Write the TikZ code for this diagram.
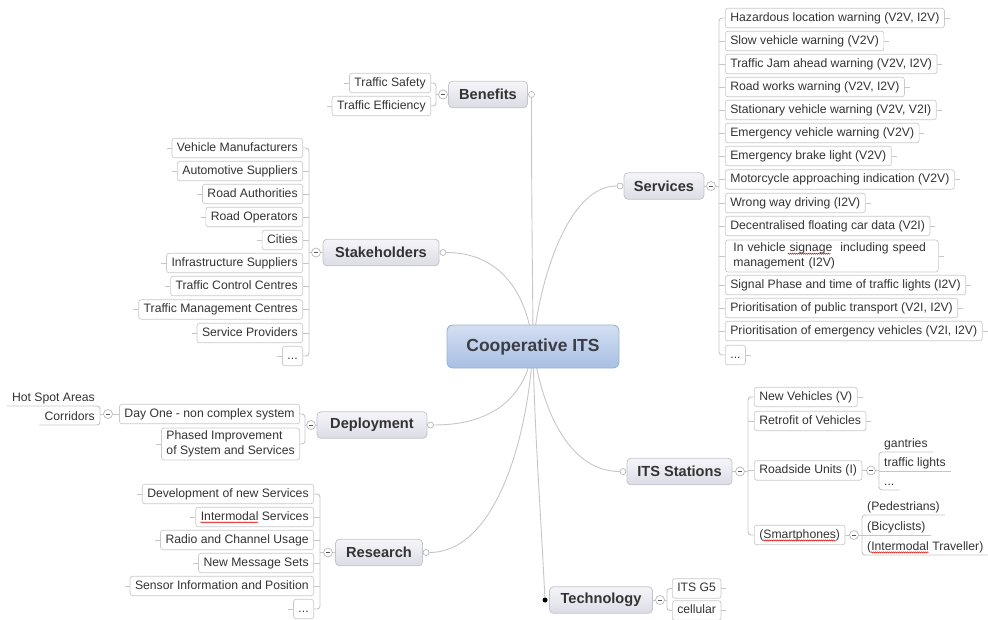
\documentclass[tikz,border=0pt]{standalone}
\usepackage{fontspec}
\setmainfont{Liberation Sans}
\usetikzlibrary{backgrounds,decorations.pathmorphing}

\definecolor{txt}{HTML}{333333}
\definecolor{leafline}{HTML}{CACACA}
\definecolor{connc}{HTML}{C6C6C6}
\definecolor{circc}{HTML}{B8B8B8}
\definecolor{minuscol}{HTML}{555555}
\definecolor{topicline}{HTML}{C4C4CE}
\definecolor{topictop}{HTML}{F5F5F9}
\definecolor{topicbot}{HTML}{DCDCE6}
\definecolor{cline}{HTML}{9DB2D2}
\definecolor{ctop}{HTML}{D4DFF1}
\definecolor{cbot}{HTML}{A7BFE4}
\definecolor{ctxt}{HTML}{3C3C44}
\definecolor{spellred}{HTML}{E02020}

\newcommand\leaffont{\fontsize{12.2}{14.5}\selectfont}
\newcommand\topicfont{\fontsize{14.6}{17}\selectfont\bfseries}
\newcommand\centralfont{\fontsize{17.5}{21}\selectfont\bfseries}
% widths used to place the spell-check marks
\newlength\wIntermodal
\newlength\wSmartphones
\newlength\wParen
\newlength\wInVehicle
\newlength\wSignage

\begin{document}
\settowidth\wIntermodal{\leaffont Intermodal}%
\settowidth\wSmartphones{\leaffont Smartphones}%
\settowidth\wParen{\leaffont (}%
\settowidth\wInVehicle{\leaffont In vehicle\ }%
\settowidth\wSignage{\leaffont signage}%
\begin{tikzpicture}[x=1pt,y=-1pt,
  conn/.style={draw=connc,line width=0.9pt},
  bconn/.style={conn,rounded corners=3pt},
  leaf/.style={draw=leafline,fill=white,rounded corners=2.5pt,line width=0.7pt,
    font=\leaffont,text=txt,inner xsep=5pt,inner ysep=3.5pt,
    text height=9pt,text depth=2.7pt,minimum height=19.5pt},
  leafwrap/.style={leaf,align=left,text height=,text depth=,inner ysep=3pt},
  uleaf/.style={font=\leaffont,text=txt,inner xsep=5pt,inner ysep=2pt,
    text height=9pt,text depth=2.7pt},
  topic/.style={draw=topicline,top color=topictop,bottom color=topicbot,
    rounded corners=4pt,line width=0.8pt,font=\topicfont,text=txt,
    minimum height=26.5pt,inner sep=0pt},
  central/.style={draw=cline,top color=ctop,bottom color=cbot,rounded corners=6pt,
    line width=0.9pt,font=\centralfont,text=ctxt,minimum width=172pt,
    minimum height=43pt,inner sep=0pt},
  collapse/.style={circle,draw=circc,fill=white,line width=0.7pt,minimum size=9pt,
    inner sep=0pt,path picture={\draw[minuscol,line width=0.9pt]
      ([xshift=-2.2pt]path picture bounding box.center) --
      ([xshift=2.2pt]path picture bounding box.center);}},
  endc/.style={circle,draw=circc,fill=white,line width=0.7pt,minimum size=6pt,inner sep=0pt},
  selc/.style={circle,fill=black,minimum size=5pt,inner sep=0pt},
  squig/.style={draw=spellred,line width=0.55pt,decorate,
    decoration={zigzag,segment length=2pt,amplitude=0.6pt}}
]
\useasboundingbox (0,0) rectangle (988,619);

% ---------- central topic ----------
\node[central] (cits) at (533,346.5) {Cooperative ITS};

% ---------- Benefits ----------
\node[topic,minimum width=79pt] (ben) at (488,94.5) {Benefits};
\node[endc] (benE) at (531.5,94.5) {};
\node[collapse] (benM) at (443,94.5) {};
\coordinate (benB) at (436,94.5);
\node[leaf,anchor=east] (b1) at (431,83) {Traffic Safety};
\node[leaf,anchor=east] (b2) at (431,106) {Traffic Efficiency};
\draw[bconn] (b1.east) -| (benB) |- (b2.east);
\draw[conn] (ben.west) -- (benM);
\draw[conn] (benM) -- (benB);
\foreach \n in {b1,b2} \draw[conn] (\n.west) -- +(-5,0);

% ---------- Stakeholders ----------
\node[topic,minimum width=116pt] (stk) at (381,252.5) {Stakeholders};
\node[endc] (stkE) at (443,252.5) {};
\node[collapse] (stkM) at (316,252.5) {};
\coordinate (stkB) at (309,252.5);
\node[leaf,anchor=east] (k1) at (303,148) {Vehicle Manufacturers};
\node[leaf,anchor=east] (k2) at (303,171) {Automotive Suppliers};
\node[leaf,anchor=east] (k3) at (303,194) {Road Authorities};
\node[leaf,anchor=east] (k4) at (303,217) {Road Operators};
\node[leaf,anchor=east] (k5) at (303,240) {Cities};
\node[leaf,anchor=east] (k6) at (303,263) {Infrastructure Suppliers};
\node[leaf,anchor=east] (k7) at (303,286) {Traffic Control Centres};
\node[leaf,anchor=east] (k8) at (303,309.5) {Traffic Management Centres};
\node[leaf,anchor=east] (k9) at (303,333) {Service Providers};
\node[leaf,anchor=east] (k10) at (303,356) {...};
\draw[bconn] (k1.east) -| (stkB) |- (k10.east);
\foreach \n in {k2,k3,k4,k5,k6,k7,k8,k9} \draw[conn] (\n.east) -- (\n.east -| stkB);
\draw[conn] (stk.west) -- (stkM);
\draw[conn] (stkM) -- (stkB);
\foreach \n in {k1,k2,k3,k4,k5,k6,k7,k8,k9,k10} \draw[conn] (\n.west) -- +(-5,0);

% ---------- Deployment ----------
\node[topic,minimum width=110pt] (dep) at (372,425) {Deployment};
\node[endc] (depE) at (430.5,425) {};
\node[collapse] (depM) at (311,425) {};
\coordinate (depB) at (305,425);
\node[leaf,anchor=east] (d1) at (300,414) {Day One - non complex system};
\node[leafwrap,anchor=east] (d2) at (300,444) {Phased Improvement\\of System and Services};
\draw[bconn] (d1.east) -| (depB) |- (d2.east);
\draw[conn] (dep.west) -- (depM);
\draw[conn] (depM) -- (depB);
\draw[conn] (d2.west) -- +(-5,0);
% Day One sub-branch
\node[collapse] (d1M) at (108,414) {};
\coordinate (d1B) at (100,414);
\node[uleaf,anchor=south east] (h1) at (100,406) {Hot Spot Areas};
\node[uleaf,anchor=south east] (h2) at (100,425) {Corridors};
\draw[bconn] (h1.south west) -- (h1.south east) -- (h2.south east) -- (h2.south west);
\draw[conn] (d1.west) -- (d1M);
\draw[conn] (d1M) -- (d1B);

% ---------- Research ----------
\node[topic,minimum width=87pt] (res) at (379,552.5) {Research};
\node[endc] (resE) at (426,552.5) {};
\node[collapse] (resM) at (328,552.5) {};
\coordinate (resB) at (320,552.5);
\node[leaf,anchor=east] (r1) at (314,494) {Development of new Services};
\node[leaf,anchor=east] (r2) at (314,517) {Intermodal Services};
\node[leaf,anchor=east] (r3) at (314,540) {Radio and Channel Usage};
\node[leaf,anchor=east] (r4) at (314,563) {New Message Sets};
\node[leaf,anchor=east] (r5) at (314,586) {Sensor Information and Position};
\node[leaf,anchor=east] (r6) at (314,609) {...};
\draw[bconn] (r1.east) -| (resB) |- (r6.east);
\foreach \n in {r2,r3,r4,r5} \draw[conn] (\n.east) -- (\n.east -| resB);
\draw[conn] (res.west) -- (resM);
\draw[conn] (resM) -- (resB);
\foreach \n in {r1,r2,r3,r4,r5,r6} \draw[conn] (\n.west) -- +(-5,0);

% ---------- Services ----------
\node[topic,minimum width=80pt] (svc) at (664,186) {Services};
\node[endc] (svcE) at (620,186) {};
\node[collapse] (svcM) at (711,186) {};
\coordinate (svcB) at (719,186);
\node[leaf,anchor=west] (s1) at (725,18) {Hazardous location warning (V2V, I2V)};
\node[leaf,anchor=west] (s2) at (725,41) {Slow vehicle warning (V2V)};
\node[leaf,anchor=west] (s3) at (725,64) {Traffic Jam ahead warning (V2V, I2V)};
\node[leaf,anchor=west] (s4) at (725,87) {Road works warning (V2V, I2V)};
\node[leaf,anchor=west] (s5) at (725,110) {Stationary vehicle warning (V2V, V2I)};
\node[leaf,anchor=west] (s6) at (725,133) {Emergency vehicle warning (V2V)};
\node[leaf,anchor=west] (s7) at (725,156) {Emergency brake light (V2V)};
\node[leaf,anchor=west] (s8) at (725,179.5) {Motorcycle approaching indication (V2V)};
\node[leaf,anchor=west] (s9) at (725,203) {Wrong way driving (I2V)};
\node[leaf,anchor=west] (s10) at (725,226) {Decentralised floating car data (V2I)};
\node[leafwrap,anchor=west,text width=197pt,inner xsep=8pt] (s11) at (725,256)
  {In vehicle signage\space\space including speed\\management (I2V)};
\node[leaf,anchor=west] (s12) at (725,285) {Signal Phase and time of traffic lights (I2V)};
\node[leaf,anchor=west] (s13) at (725,308) {Prioritisation of public transport (V2I, I2V)};
\node[leaf,anchor=west] (s14) at (725,331) {Prioritisation of emergency vehicles (V2I, I2V)};
\node[leaf,anchor=west] (s15) at (725,355) {...};
\draw[bconn] (s1.west) -| (svcB) |- (s15.west);
\foreach \n in {s2,s3,s4,s5,s6,s7,s8,s9,s10,s11,s12,s13,s14}
  \draw[conn] (\n.west) -- (\n.west -| svcB);
\draw[conn] (svc.east) -- (svcM);
\draw[conn] (svcM) -- (svcB);
\foreach \n in {s1,s2,s3,s4,s5,s6,s7,s8,s9,s10,s11,s12,s13,s14,s15}
  \draw[conn] (\n.east) -- +(5,0);

% ---------- ITS Stations ----------
\node[topic,minimum width=105pt] (its) at (679.5,471.5) {ITS Stations};
\node[endc] (itsE) at (623,471.5) {};
\node[collapse] (itsM) at (740,471.5) {};
\coordinate (itsB) at (748,471.5);
\node[leaf,anchor=west] (i1) at (754,397) {New Vehicles (V)};
\node[leaf,anchor=west] (i2) at (754,421) {Retrofit of Vehicles};
\node[leaf,anchor=west] (i3) at (754,470.5) {Roadside Units (I)};
\node[leaf,anchor=west] (i4) at (754,535) {(Smartphones)};
\draw[bconn] (i1.west) -| (itsB) |- (i4.west);
\foreach \n in {i2,i3} \draw[conn] (\n.west) -- (\n.west -| itsB);
\draw[conn] (its.east) -- (itsM);
\draw[conn] (itsM) -- (itsB);
\foreach \n in {i1,i2} \draw[conn] (\n.east) -- +(5,0);
% Roadside units sub-branch
\node[collapse] (rsuM) at (871,470.5) {};
\coordinate (rsuB) at (879,470.5);
\node[uleaf,anchor=south west] (g1) at (879,452) {gantries};
\node[uleaf,anchor=south west] (g2) at (879,471) {traffic lights};
\node[uleaf,anchor=south west] (g3) at (879,490) {...};
\draw[bconn] (g1.south east) -- (g1.south west) -- (g3.south west) -- (g3.south east);
\draw[conn] (g2.south west) -- (g2.south east);
\draw[conn] (i3.east) -- (rsuM);
\draw[conn] (rsuM) -- (rsuB);
% Smartphones sub-branch
\node[collapse] (smM) at (854,535) {};
\coordinate (smB) at (862,535);
\node[uleaf,anchor=south west] (p1) at (862,515) {(Pedestrians)};
\node[uleaf,anchor=south west] (p2) at (862,535) {(Bicyclists)};
\node[uleaf,anchor=south west] (p3) at (862,555) {(Intermodal Traveller)};
\draw[bconn] (p1.south east) -- (p1.south west) -- (p3.south west) -- (p3.south east);
\draw[conn] (p2.south west) -- (p2.south east);
\draw[conn] (i4.east) -- (smM);
\draw[conn] (smM) -- (smB);

% ---------- Technology ----------
\node[topic,minimum width=103pt] (tec) at (601,600) {Technology};
\node[selc] (tecE) at (545,600) {};
\node[collapse] (tecM) at (660,600) {};
\coordinate (tecB) at (667,600);
\node[leaf,anchor=west] (t1) at (672,588.5) {ITS G5};
\node[leaf,anchor=west] (t2) at (672,610.5) {cellular};
\draw[bconn] (t1.west) -| (tecB) |- (t2.west);
\draw[conn] (tec.east) -- (tecM);
\draw[conn] (tecM) -- (tecB);
\foreach \n in {t1,t2} \draw[conn] (\n.east) -- +(5,0);

% ---------- main branches (behind the central topic) ----------
\begin{scope}[on background layer]
\draw[conn] (benE) .. controls (531.5,230) and (533,300) .. (cits.center);
\draw[conn] (stkE) .. controls (498,252.5) and (527,290) .. (cits.center);
\draw[conn] (depE) .. controls (495,425) and (527,395) .. (cits.center);
\draw[conn] (resE) .. controls (495,552.5) and (528,440) .. (cits.center);
\draw[conn] (svcE) .. controls (568,186) and (539,280) .. (cits.center);
\draw[conn] (itsE) .. controls (565,471.5) and (540,400) .. (cits.center);
\draw[conn] (tecE) .. controls (540,500) and (534,420) .. (cits.center);
\end{scope}

% ---------- spell-check marks ----------
\draw[squig] ([xshift=5pt,yshift=-2.3pt]r2.base west) -- ++(\wIntermodal,0);
\draw[squig] ([xshift=5pt+\wParen,yshift=-2.3pt]p3.base west) -- ++(\wIntermodal,0);
\draw[squig] ([xshift=5pt+\wParen,yshift=-2.3pt]i4.base west) -- ++(\wSmartphones,0);
\draw[squig] ([xshift=8pt+\wInVehicle,yshift=-14pt]s11.north west) -- ++(\wSignage,0);
\end{tikzpicture}
\end{document}
